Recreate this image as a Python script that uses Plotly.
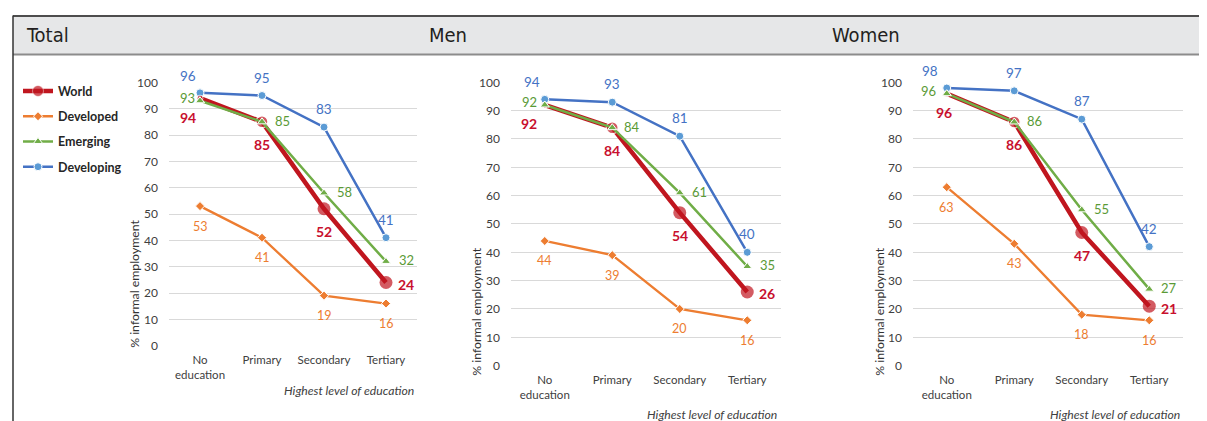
import plotly.graph_objects as go

# ---------------- data ----------------
categories = ["No<br>education", "Primary", "Secondary", "Tertiary"]
panel_titles = ["Total", "Men", "Women"]
series_names = ["World", "Developed", "Emerging", "Developing"]
y_tick_values = [0, 10, 20, 30, 40, 50, 60, 70, 80, 90, 100]
x_axis_title = "Highest level of education"
y_axis_title = "% informal employment"

world_total = [94, 85, 52, 24]
developed_total = [53, 41, 19, 16]
emerging_total = [93, 85, 58, 32]
developing_total = [96, 95, 83, 41]

world_men = [92, 84, 54, 26]
developed_men = [44, 39, 20, 16]
emerging_men = [92, 84, 61, 35]
developing_men = [94, 93, 81, 40]

world_women = [96, 86, 47, 21]
developed_women = [63, 43, 18, 16]
emerging_women = [96, 86, 55, 27]
developing_women = [98, 97, 87, 42]

panel_data = [
    {"World": world_total, "Developed": developed_total, "Emerging": emerging_total, "Developing": developing_total},
    {"World": world_men, "Developed": developed_men, "Emerging": emerging_men, "Developing": developing_men},
    {"World": world_women, "Developed": developed_women, "Emerging": emerging_women, "Developing": developing_women},
]

# ---------------- styling ----------------
W, H = 1207, 421
# map target screen pixels to paper coordinates (page offset / effective plot height)
X0, Y0, EFF_H = 8.0, 14.5, 407.0
def px(x):
    return (x - X0) / W
def py(y):
    return 1 - (y - Y0) / EFF_H

FONT = "Lato, Carlito, Calibri, sans-serif"
HEAD_FONT = "Liberation Sans Narrow, Arial Narrow, DejaVu Sans Condensed, Roboto, sans-serif"
TXT = "#404040"

style = {
    "World": dict(line="#c0161f", marker="#c0161f", symbol="circle", width=4.5,
                  size=[6, 12, 13, 13], mline=[1, 1.5, 0, 0], label="#c8102e", lsize=14, bold=True, rank=1),
    "Developed": dict(line="#ed7d31", marker="#ed7d31", symbol="diamond", width=2.3,
                      size=7, mline=1, label="#ed7d31", lsize=12.5, bold=False, rank=2),
    "Emerging": dict(line="#70ad47", marker="#70ad47", symbol="triangle-up", width=2.5,
                     size=8, mline=1, label="#5a9a36", lsize=13, bold=False, rank=3),
    "Developing": dict(line="#4472c4", marker="#5b9bd5", symbol="circle", width=2.5,
                       size=8, mline=1, label="#4472c4", lsize=13.5, bold=False, rank=4),
}
draw_order = ["Developed", "Developing", "World", "Emerging"]

first_dx = {"World": [-12, -16, -3], "Emerging": [-13, -15, -18], "Developing": [-12, -13, -17], "Developed": [0, 0, 0]}
def offset(name, i, p):
    if name == "Developing":
        return (first_dx[name][p], 17) if i == 0 else (0, 18)
    if name == "Emerging":
        return (first_dx[name][p], 3) if i == 0 else (20, 1)
    if name == "World":
        if i == 0:
            return (first_dx[name][p], -19)
        if i == 3:
            return (20, -2)
        return (0, -23)
    return (0, -20)

x_domains = [[px(169), px(417)], [px(511), px(781)], [px(913), px(1183)]]
y_domains = [[py(345), py(81)], [py(365), py(81)], [py(365), py(81)]]
xtitle_pos = [(416, 390), (779, 414), (1182, 414)]
ytitle_pos = [(135, 283), (477, 311), (880, 311)]
head_x = [24, 427, 830]

fig = go.Figure()
annotations = []
xs = list(range(len(categories)))

for p in range(3):
    xa = "x" if p == 0 else f"x{p+1}"
    ya = "y" if p == 0 else f"y{p+1}"
    for name in draw_order:
        s = style[name]
        vals = panel_data[p][name]
        fig.add_trace(go.Scatter(
            x=xs, y=vals, xaxis=xa, yaxis=ya, mode="lines+markers",
            name=f"<b>{name}</b>", legendgroup=name, showlegend=(p == 0), legendrank=s["rank"],
            line=dict(color=s["line"], width=s["width"]),
            marker=dict(symbol=s["symbol"], size=s["size"], color=s["marker"],
                        line=dict(color="white", width=s["mline"])),
            cliponaxis=False, hoverinfo="skip",
        ))
        for i, v in enumerate(vals):
            dx, dy = offset(name, i, p)
            txt = f"<b>{v}</b>" if s["bold"] else str(v)
            annotations.append(dict(
                x=i, y=v, xref=xa, yref=ya, text=txt, showarrow=False,
                xshift=dx, yshift=dy,
                font=dict(family=FONT, size=s["lsize"], color=s["label"])))
    ax = dict(domain=x_domains[p], range=[-0.5, 3.5], tickmode="array", tickvals=xs,
              ticktext=categories, showgrid=False, zeroline=False, showline=False,
              ticks="", ticklabelstandoff=6, tickfont=dict(family=FONT, size=11.5, color=TXT),
              anchor=ya, fixedrange=True)
    ay = dict(domain=y_domains[p], range=[0, 100], tickmode="array", tickvals=y_tick_values,
              showgrid=True, gridcolor="#d9d9d9", gridwidth=1, zeroline=False, showline=False,
              ticks="", ticklabelstandoff=10, tickfont=dict(family=FONT, size=12, color=TXT),
              anchor=xa, fixedrange=True)
    fig.update_layout(**{("xaxis" if p == 0 else f"xaxis{p+1}"): ax,
                         ("yaxis" if p == 0 else f"yaxis{p+1}"): ay})
    annotations.append(dict(x=px(xtitle_pos[p][0]), y=py(xtitle_pos[p][1]), xref="paper", yref="paper",
                            xanchor="right", yanchor="middle", showarrow=False,
                            text=f"<i>{x_axis_title}</i>",
                            font=dict(family=FONT, size=12.2, color=TXT)))
    annotations.append(dict(x=px(ytitle_pos[p][0]), y=py(ytitle_pos[p][1]), xref="paper", yref="paper",
                            xanchor="center", yanchor="middle", showarrow=False, textangle=-90,
                            text=y_axis_title, font=dict(family=FONT, size=12.3, color="#333333")))
    annotations.append(dict(x=px(head_x[p]), y=py(34), xref="paper", yref="paper",
                            xanchor="left", yanchor="middle", showarrow=False,
                            text=panel_titles[p], font=dict(family=HEAD_FONT, size=20, color="#231f20")))

shapes = [
    dict(type="rect", xref="paper", yref="paper", x0=px(13), x1=1, y0=py(53), y1=py(14),
         fillcolor="#e6e7e8", line=dict(width=0), layer="below"),
    dict(type="line", xref="paper", yref="paper", x0=px(13), x1=1, y0=py(14.5), y1=py(14.5),
         line=dict(color="#4d4d4d", width=2)),
    dict(type="line", xref="paper", yref="paper", x0=px(13), x1=1, y0=py(53), y1=py(53),
         line=dict(color="#8c8c8c", width=2)),
    dict(type="line", xref="paper", yref="paper", x0=px(13), x1=px(13), y0=-0.05, y1=py(14),
         line=dict(color="#333333", width=1.5)),
]

fig.update_layout(
    width=W, height=H, margin=dict(l=0, r=0, t=0, b=0),
    paper_bgcolor="white", plot_bgcolor="white",
    annotations=annotations, shapes=shapes,
    showlegend=True,
    legend=dict(x=px(18), y=py(75), xanchor="left", yanchor="top",
                font=dict(family=FONT, size=12.5, color="#262626"),
                tracegroupgap=6, itemwidth=30, bgcolor="rgba(0,0,0,0)",
                traceorder="grouped"),
)

fig.write_html("out.html", config={"displayModeBar": False})
